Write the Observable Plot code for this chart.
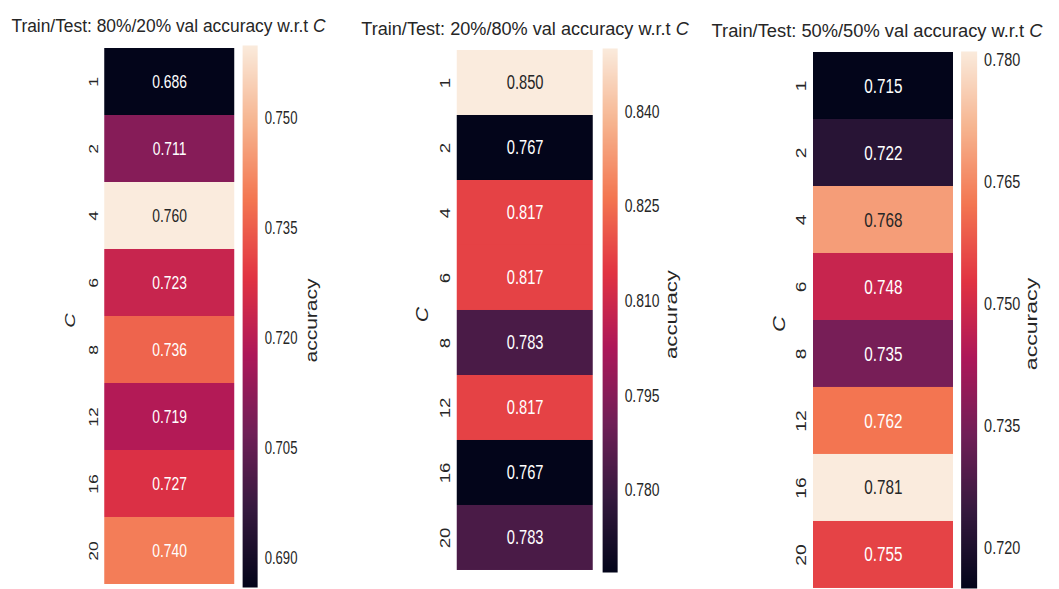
<!DOCTYPE html>
<html>
<head>
<meta charset="utf-8">
<script src="https://cdn.jsdelivr.net/npm/d3@7"></script>
<script src="https://cdn.jsdelivr.net/npm/@observablehq/plot@0.6"></script>
<style>
  body { margin: 0; background: #fff; }
  #fig { position: relative; width: 1059px; height: 589px; overflow: hidden; background: #fff;
         font-family: "Liberation Sans", Arial, sans-serif; color: #262626; }
  #squeeze { position: absolute; left: 0; top: 0; height: 589px; transform-origin: 0 0; }
  #squeeze svg { position: absolute; overflow: visible; }
  #titles { position: absolute; left: 0; top: 0; }
</style>
</head>
<body>
<div id="fig"><div id="squeeze"></div><svg id="titles" width="1059" height="589"></svg></div>
<script>
// Regularisation strength C (row labels)
const cValues = ["1", "2", "4", "6", "8", "12", "16", "20"];

// Validation accuracy for each train/test split
const acc80_20 = [0.686, 0.711, 0.760, 0.723, 0.736, 0.719, 0.727, 0.740];
const acc20_80 = [0.850, 0.767, 0.817, 0.817, 0.783, 0.817, 0.767, 0.783];
const acc50_50 = [0.715, 0.722, 0.768, 0.748, 0.735, 0.762, 0.781, 0.755];

// Colorbar tick values
const ticks80_20 = [0.690, 0.705, 0.720, 0.735, 0.750];
const ticks20_80 = [0.780, 0.795, 0.810, 0.825, 0.840];
const ticks50_50 = [0.720, 0.735, 0.750, 0.765, 0.780];

// Panel titles (the trailing C is set in italics)
const titles = [
  "Train/Test: 80%/20% val accuracy w.r.t ",
  "Train/Test: 20%/80% val accuracy w.r.t ",
  "Train/Test: 50%/50% val accuracy w.r.t "
];

// "rocket" sequential colormap stops
const rocketStops = ["#03051a", "#35193e", "#701f57", "#ad1759", "#e13342", "#f37651", "#f6b48f", "#faebdd"];
const rocket = d3.piecewise(d3.interpolateRgb, rocketStops);

// Layout (pixels): heatmap frame, colorbar column, title placement and text scale per panel
const layout = [
  {frame: {left: 104, right: 234, top: 45, bottom: 587}, bar: {left: 242, right: 257},
   titleX: 168.5, titleY: 32, titleSqueeze: 0.94, k: 1.0},
  {frame: {left: 457, right: 593, top: 48, bottom: 572}, bar: {left: 602, right: 617},
   titleX: 525, titleY: 35, titleSqueeze: 0.98, k: 1.06},
  {frame: {left: 813, right: 953, top: 51, bottom: 588}, bar: {left: 961, right: 977},
   titleX: 877, titleY: 37, titleSqueeze: 0.99, k: 1.1}
];

const panels = [
  {title: titles[0], values: acc80_20, ticks: ticks80_20, ...layout[0]},
  {title: titles[1], values: acc20_80, ticks: ticks20_80, ...layout[1]},
  {title: titles[2], values: acc50_50, ticks: ticks50_50, ...layout[2]}
];

// The chart layer is drawn wide and squeezed horizontally (narrow lettering)
const S = 0.75;
const U = (px) => px / S;
const squeeze = document.getElementById("squeeze");
squeeze.style.width = U(1059) + "px";
squeeze.style.transform = `scale(${S}, 1)`;

const font = '"Liberation Sans", Arial, sans-serif';
const ink = "#262626";

function luminance(c) {
  const {r, g, b} = d3.rgb(c);
  const f = (v) => { v /= 255; return v <= 0.03928 ? v / 12.92 : Math.pow((v + 0.055) / 1.055, 2.4); };
  return 0.2126 * f(r) + 0.7152 * f(g) + 0.0722 * f(b);
}

const titleLayer = d3.select("#titles");

panels.forEach((p) => {
  const k = p.k;
  const data = cValues.map((c, i) => ({C: c, acc: p.values[i]}));
  const [vmin, vmax] = d3.extent(p.values);
  const color = {type: "linear", domain: [vmin, vmax], interpolate: rocket};
  const isLight = (d) => luminance(rocket((d.acc - vmin) / (vmax - vmin))) > 0.408;
  const h = p.frame.bottom - p.frame.top;
  const mL = 90;

  const heat = Plot.plot({
    width: mL + U(p.frame.right - p.frame.left),
    height: h,
    marginLeft: mL, marginRight: 0, marginTop: 0, marginBottom: 0,
    style: {fontFamily: font, color: ink, background: "transparent", overflow: "visible"},
    y: {type: "band", domain: cValues, padding: 0},
    color,
    marks: [
      Plot.cell(data, {y: "C", fill: "acc"}),
      Plot.text(data.filter((d) => !isLight(d)), {y: "C", text: (d) => d.acc.toFixed(3), fill: "#ffffff", fontSize: 18.5 * k}),
      Plot.text(data.filter(isLight), {y: "C", text: (d) => d.acc.toFixed(3), fill: ink, fontSize: 18.5 * k}),
      Plot.axisY({tickRotate: -90, tickSize: 0, tickPadding: U(7), fontSize: 17.5 * k, label: null}),
      Plot.text(["C"], {frameAnchor: "left", dx: -U(34), dy: 4, rotate: -90, textAnchor: "middle", lineAnchor: "middle",
        fontStyle: "italic", fontSize: 20 * k, fill: ink})
    ]
  });
  heat.style.left = (U(p.frame.left) - mL) + "px";
  heat.style.top = p.frame.top + "px";
  squeeze.appendChild(heat);

  const mR = 110;
  const bar = Plot.plot({
    width: U(p.bar.right - p.bar.left) + mR,
    height: h,
    marginLeft: 0, marginRight: mR, marginTop: 0, marginBottom: 0,
    style: {fontFamily: font, color: ink, background: "transparent", overflow: "visible"},
    x: {domain: [0, 1], axis: null},
    y: {domain: [vmin, vmax]},
    color,
    marks: [
      Plot.raster({x1: 0, x2: 1, y1: vmin, y2: vmax, fill: (x, y) => y}),
      Plot.axisY(p.ticks, {anchor: "right", tickSize: 0, tickPadding: U(7), tickFormat: d3.format(".3f"),
        fontSize: 17.5 * k, label: null}),
      Plot.text(["accuracy"], {frameAnchor: "right", dx: U(54), dy: 4, rotate: -90, textAnchor: "middle", lineAnchor: "middle",
        fontSize: 21 * k, fill: ink})
    ]
  });
  bar.style.left = U(p.bar.left) + "px";
  bar.style.top = p.frame.top + "px";
  squeeze.appendChild(bar);

  // Title centred over the heatmap
  const t = titleLayer.append("text")
    .attr("transform", `translate(${p.titleX},${p.titleY}) scale(${p.titleSqueeze},1)`)
    .attr("text-anchor", "middle")
    .attr("font-family", font)
    .attr("font-size", 18.5)
    .attr("fill", ink);
  t.append("tspan").text(p.title);
  t.append("tspan").attr("font-style", "italic").text("C");
});
</script>
</body>
</html>
